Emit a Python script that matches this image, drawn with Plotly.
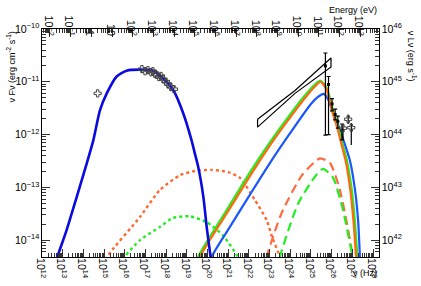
import plotly.graph_objects as go

# ---------------- data (log10 nu [Hz], log10 nuFnu [erg cm^-2 s^-1]) ----------------
sync_lognu = [12.55, 12.74, 13.19, 13.68, 14.16, 14.48, 14.80, 15.13, 15.61, 16.09, 16.74,
              17.38, 17.86, 18.35, 18.83, 19.23, 19.39, 19.55, 19.80, 19.96, 20.15, 20.25]
sync_logf = [-14.6, -14.32, -13.81, -13.18, -12.55, -12.11, -11.54, -11.22, -10.90, -10.79, -10.77,
             -10.79, -10.94, -11.16, -11.60, -12.11, -12.36, -12.61, -13.18, -13.75, -14.32, -14.6]

opt_lognu = [14.69, 16.83, 16.98, 17.12, 17.27, 17.36, 17.46, 17.56, 17.65, 17.75, 17.85, 17.99, 18.09, 18.23, 18.38]
opt_logf = [-11.22, -10.76, -10.80, -10.78, -10.82, -10.80, -10.85, -10.87, -10.91, -10.89, -10.95, -11.00, -11.04, -11.10, -11.14]

dot_orange_lognu = [15.0, 15.16, 16.74, 17.70, 18.67, 19.39, 20.20, 20.99, 21.57, 22.29, 22.86, 23.12, 23.50, 23.6]
dot_orange_logf = [-14.6, -14.32, -13.56, -13.05, -12.77, -12.69, -12.67, -12.71, -12.82, -13.24, -13.62, -13.94, -14.32, -14.5]

dot_green_lognu = [15.85, 16.01, 16.74, 17.70, 18.33, 19.15, 19.96, 20.75, 21.41, 21.47, 21.55]
dot_green_logf = [-14.6, -14.32, -14.00, -13.75, -13.58, -13.55, -13.66, -13.91, -14.28, -14.32, -14.45]

ssc_green_lognu = [19.40, 19.55, 21.0, 22.0, 23.0, 24.0, 24.8, 25.2, 25.45, 25.76, 26.08, 26.32, 26.50, 26.73, 26.97, 27.13, 27.24, 27.3]
ssc_green_logf = [-14.6, -14.32, -13.39, -12.75, -12.16, -11.62, -11.22, -11.05, -10.98, -11.12, -11.57, -11.86, -12.14, -12.48, -13.05, -13.68, -14.32, -14.6]

ssc_orange_lognu = [19.50, 19.64, 21.08, 22.08, 23.06, 24.06, 24.85, 25.24, 25.47, 25.75, 26.05, 26.28, 26.46, 26.68, 26.91, 27.07, 27.18, 27.24]
ssc_orange_logf = [-14.6, -14.32, -13.40, -12.77, -12.18, -11.64, -11.24, -11.07, -11.00, -11.14, -11.59, -11.88, -12.16, -12.50, -13.07, -13.70, -14.32, -14.6]

ssc_blue_lognu = [20.05, 20.20, 21.0, 22.0, 23.0, 24.0, 25.0, 25.4, 25.62, 25.85, 26.10, 26.40, 26.60, 26.89, 27.13, 27.29, 27.37, 27.43]
ssc_blue_logf = [-14.6, -14.32, -13.80, -13.17, -12.55, -11.97, -11.42, -11.27, -11.23, -11.35, -11.62, -11.90, -12.14, -12.50, -13.05, -13.68, -14.32, -14.6]

dash_orange_lognu = [22.75, 22.86, 23.58, 24.57, 25.44, 25.92, 26.40, 26.89, 27.02, 27.08]
dash_orange_logf = [-14.6, -14.32, -13.49, -12.77, -12.45, -12.54, -13.05, -14.00, -14.32, -14.5]

dash_green_lognu = [23.4, 23.50, 24.39, 25.19, 25.58, 26.06, 26.55, 26.98, 27.03, 27.08]
dash_green_logf = [-14.6, -14.32, -13.30, -12.80, -12.65, -12.81, -13.43, -14.25, -14.32, -14.45]

bowtie_lognu = [22.42, 24.23, 25.97, 25.97, 24.23, 22.42, 22.42]
bowtie_logf = [-11.71, -11.166, -10.55, -10.72, -11.22, -11.86, -11.71]

vhe_lognu = [25.70, 25.85, 26.02, 26.17, 26.30, 26.50]
vhe_logf = [-10.70, -11.05, -11.42, -11.62, -11.75, -11.92]
vhe_err_hi = [-10.455, -10.90, -11.32, -11.52, -11.65, -11.80]
vhe_err_lo = [-12.01, -12.0, -11.55, -11.72, -11.88, -12.10]

vhe2_lognu = [26.55, 26.80, 26.95]
vhe2_logf = [-11.88, -11.71, -11.87]
vhe2_err_hi = [-11.80, -11.62, -11.78]
vhe2_err_lo = [-12.10, -11.80, -12.20]

x_range = [12.0, 28.29]
y_range = [-14.32, -10.0]
LOG_H_EV = -14.3835   # log10(h) in eV s
LUM_OFFSET = 56.0     # log10(4 pi d^2)

def p(v):
    return [10 ** a for a in v]

fig = go.Figure()

def line(lx, ly, color, dash="solid", width=2.4):
    fig.add_trace(go.Scatter(x=p(lx), y=p(ly), mode="lines",
                             line=dict(color=color, width=width, dash=dash, shape="spline", smoothing=0.6),
                             hoverinfo="skip", showlegend=False))

line(dot_orange_lognu, dot_orange_logf, "#ff6a30", dash="dot", width=2.4)
line(dot_green_lognu, dot_green_logf, "#22ee22", dash="dot", width=2.4)
line(dash_orange_lognu, dash_orange_logf, "#ff6a40", dash="9px,5px", width=2.2)
line(dash_green_lognu, dash_green_logf, "#22ee22", dash="9px,5px", width=2.2)
line(ssc_blue_lognu, ssc_blue_logf, "#1a55ff", width=2.2)
line(ssc_green_lognu, ssc_green_logf, "#22ee22", width=2.4)
line(ssc_orange_lognu, ssc_orange_logf, "#ff6a10", width=2.2)
line(sync_lognu, sync_logf, "#0a0adf", width=2.6)

fig.add_trace(go.Scatter(x=p(bowtie_lognu), y=p(bowtie_logf), mode="lines",
                         line=dict(color="black", width=1.2), hoverinfo="skip", showlegend=False))

fig.add_trace(go.Scatter(x=p(opt_lognu), y=p(opt_logf), mode="markers",
                         marker=dict(symbol="cross-open", size=6, color="#444", line=dict(width=1)),
                         hoverinfo="skip", showlegend=False))

def errs(val, hi, lo):
    up = [10 ** h - 10 ** v for h, v in zip(hi, val)]
    dn = [10 ** v - 10 ** l for l, v in zip(lo, val)]
    return up, dn

up, dn = errs(vhe_logf, vhe_err_hi, vhe_err_lo)
fig.add_trace(go.Scatter(x=p(vhe_lognu), y=p(vhe_logf), mode="markers",
                         marker=dict(symbol="square", size=3, color="black"),
                         error_y=dict(type="data", symmetric=False, array=up, arrayminus=dn,
                                      color="black", thickness=1.2, width=2),
                         hoverinfo="skip", showlegend=False))
up2, dn2 = errs(vhe2_logf, vhe2_err_hi, vhe2_err_lo)
fig.add_trace(go.Scatter(x=p(vhe2_lognu), y=p(vhe2_logf), mode="markers",
                         marker=dict(symbol="cross-open", size=6, color="#444", line=dict(width=1)),
                         error_y=dict(type="data", symmetric=False, array=up2, arrayminus=dn2,
                                      color="black", thickness=1.2, width=0),
                         hoverinfo="skip", showlegend=False))

# dummy trace for secondary axes
fig.add_trace(go.Scatter(x=[1e3], y=[1e44], xaxis="x2", yaxis="y2", mode="markers",
                         marker=dict(opacity=0), hoverinfo="skip", showlegend=False))

FONT = "Liberation Sans, Arial, sans-serif"
tickfont = dict(family=FONT, size=8.5, color="black")
minor = dict(ticks="inside", ticklen=4, tickcolor="#333", showgrid=False)
common = dict(type="log", dtick=1, exponentformat="power", showgrid=False, zeroline=False,
              ticks="inside", ticklen=8, tickcolor="#333", showline=True, linecolor="black",
              linewidth=1, tickfont=tickfont, minor=minor, automargin=False)

fig.update_layout(
    template="none",
    width=421, height=286,
    margin=dict(l=42, r=42, t=29, b=29, pad=0),
    paper_bgcolor="white", plot_bgcolor="white",
    xaxis=dict(range=x_range, side="bottom", anchor="y", ticklabelstandoff=-7, **common),
    yaxis=dict(range=y_range, side="left", anchor="x", ticklabelstandoff=0, **common),
    xaxis2=dict(range=[x_range[0] + LOG_H_EV, x_range[1] + LOG_H_EV], overlaying="x", side="top",
                anchor="y", ticklabelstandoff=-17, **common),
    yaxis2=dict(range=[y_range[0] + LUM_OFFSET, y_range[1] + LUM_OFFSET], overlaying="y", side="right",
                anchor="x", ticklabelstandoff=0, **common),
    font=dict(family=FONT, size=9, color="black"),
    showlegend=False,
)

ann_font = dict(family=FONT, size=9, color="black")
fig.add_annotation(text="ν Fν (erg cm<sup>-2</sup> s<sup>-1</sup>)", xref="paper", yref="paper",
                   x=-0.092, y=1.0, xanchor="center", yanchor="top", textangle=-90, showarrow=False, font=ann_font)
fig.add_annotation(text="ν Lν (erg s<sup>-1</sup>)", xref="paper", yref="paper",
                   x=1.10, y=1.0, xanchor="center", yanchor="top", textangle=90, showarrow=False, font=ann_font)
fig.add_annotation(text="Energy (eV)", xref="paper", yref="paper",
                   x=1.0, y=1.085, xanchor="right", yanchor="middle", showarrow=False, font=ann_font)
fig.add_annotation(text="ν (Hz)", xref="paper", yref="paper",
                   x=1.0, y=-0.07, xanchor="right", yanchor="middle", showarrow=False, font=ann_font)

fig.write_html("out.html", config={"displayModeBar": False},
               post_script="document.body.style.margin='0';document.body.style.padding='0';")
